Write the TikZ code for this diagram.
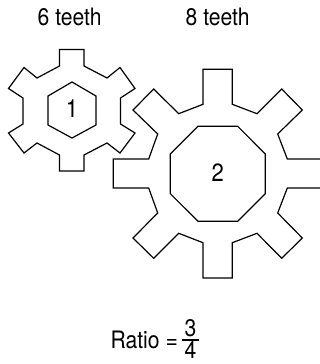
\documentclass[tikz,border=0pt]{standalone}
\usepackage{fontspec}
\setmainfont[FakeStretch=0.88]{TeX Gyre Heros}
\usepackage{tikz}

\begin{document}
\begin{tikzpicture}[x=1pt, y=-1pt, gearline/.style={line width=1.2pt, line join=miter},
		caption/.style={font=\fontsize{24}{28}\selectfont, inner sep=0pt, anchor=base west},
		digit/.style={font=\fontsize{25}{29}\selectfont, inner sep=0pt, anchor=base}]
	\clip (0,0) rectangle (320,364);

	% small gear
	\draw [gearline] (59.5,49.5) -- (84,49.5) -- (84,66) -- (107,78) -- (120,67.5) --
		(135,88.5) -- (120.5,98) -- (120.5,124) -- (135,133) -- (120,153) -- (107,143) --
		(84,155) -- (84,171) -- (59.5,171) -- (59.5,155) -- (37,143) -- (24,153) --
		(8.5,133) -- (23,124) -- (23,98) -- (8.5,88.5) -- (24,67.5) -- (37,78) --
		(59.5,66) -- cycle;
	\draw [gearline] (72,82) -- (96,96) -- (96,125) -- (72,138) -- (48,125) -- (48,96) -- cycle;

	% big gear
	\draw [gearline] (203,69.3) -- (232.3,69.3) -- (232.3,104.3) -- (257,113.7) -- (281.7,89) --
		(302.3,110) -- (277.7,134) -- (287.3,159) -- (330,159) -- (330,188) -- (287.3,188) --
		(277.7,213) -- (302.3,238) -- (281.7,258.3) -- (257,233.3) -- (232.3,242.7) --
		(232.3,278) -- (203,278) -- (203,242.7) -- (178.7,233.3) -- (153.7,258.3) --
		(133,238) -- (157.7,213) -- (148.7,188) -- (113.3,188) -- (113.3,159) -- (148.7,159) --
		(157.7,134) -- (133,110) -- (153.7,89) -- (178.7,113.7) -- (203,104.3) -- cycle;
	\draw [gearline] (198,126.3) -- (237.7,126.3) -- (265.3,154) -- (265.3,193.7) --
		(237.7,221.3) -- (198,221.3) -- (170.3,193.7) -- (170.3,154) -- cycle;

	\node [digit] (one) at (72,117.5) {1};
	\node [digit] (two) at (217.8,181.5) {2};
	\node [caption] (small) at (37.5,25) {6 teeth};
	\node [caption] (big) at (185.5,25) {8 teeth};
	\node [caption] (ratio) at (110.5,348) {Ratio =};
	\node [caption, anchor=base] (upper) at (190.5,336) {3};
	\node [caption, anchor=base] (lower) at (190.5,358.5) {4};
	\coordinate (barmid) at (190.5,340);
	\draw [line width=1.2pt] ([xshift=-8.5pt]barmid) -- ([xshift=8.5pt]barmid);
\end{tikzpicture}
\end{document}
